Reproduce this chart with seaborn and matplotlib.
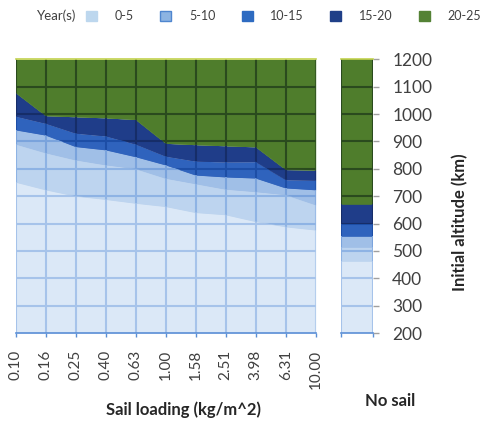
import numpy as np
import matplotlib
matplotlib.use("Agg")
import matplotlib.pyplot as plt
import seaborn as sns
import pandas as pd
from matplotlib.patches import Patch

# ---------------- data ----------------
loading_labels = ["0.10", "0.16", "0.25", "0.40", "0.63", "1.00",
                  "1.58", "2.51", "3.98", "6.31", "10.00"]
# altitude (km) of the contour boundaries, bottom to top
level1 = [751, 723, 700, 688, 674, 662, 640, 632, 607, 588, 576]
level2 = [890, 858, 832, 814, 800, 765, 745, 725, 716, 705, 668]
level3 = [942, 923, 881, 869, 844, 814, 777, 770, 766, 730, 723]
level4 = [992, 966, 930, 920, 890, 846, 828, 825, 826, 760, 758]
level5 = [1078, 994, 990, 986, 980, 893, 888, 884, 880, 797, 795]
nosail_levels = [462, 515, 553, 600, 672]
alt_ticks = [200, 300, 400, 500, 600, 700, 800, 900, 1000, 1100, 1200]
legend_labels = ["0-5", "5-10", "10-15", "15-20", "20-25"]

band_colors = ["#dbe8f7", "#bdd4ef", "#a0bfe7", "#2f63bd", "#1f3d89", "#4f7d2c"]
grid_colors = ["#a6c3ea", "#8eb3e4", "#7aa3dc", "#1d4ea6", "#162d68", "#2a4a1e"]
legend_colors = ["#bdd7ee", "#8db4e2", "#2e6bc1", "#1f3f88", "#548235"]
legend_edges = ["#bdd7ee", "#4f86cf", "#2e6bc1", "#1f3f88", "#548235"]

sns.set_theme(style="white")
plt.rcParams["font.family"] = ["Lato", "DejaVu Sans"]

W, H = 487, 422
fig = plt.figure(figsize=(W / 100, H / 100), dpi=100)

y_top, y_bot = 59.3, 333.0
ax = fig.add_axes([15.7 / W, 1 - y_bot / H, 300.0 / W, (y_bot - y_top) / H])
ax2 = fig.add_axes([340.7 / W, 1 - y_bot / H, 32.0 / W, (y_bot - y_top) / H])

def draw_panel(a, x, levels, vlines):
    n = len(x)
    bounds = [np.full(n, alt_ticks[0], dtype=float)] + \
             [np.asarray(l, dtype=float) for l in levels] + \
             [np.full(n, alt_ticks[-1], dtype=float)]
    polys = []
    for i in range(6):
        p = a.fill_between(x, bounds[i], bounds[i + 1], color=band_colors[i],
                           lw=0, zorder=1)
        polys.append(p)
    for i in range(1, 6):
        df = pd.DataFrame({"x": x, "alt": bounds[i]})
        sns.lineplot(data=df, x="x", y="alt", ax=a, color=band_colors[i],
                     lw=0.6, estimator=None, zorder=1.5)
    for i, p in enumerate(polys):
        clip = (p.get_paths()[0], p.get_transform())
        for xv in vlines:
            ln = a.axvline(xv, color=grid_colors[i], lw=1.5, zorder=2)
            ln.set_clip_path(*clip)
        for yv in alt_ticks[1:-1]:
            ln = a.axhline(yv, color=grid_colors[i], lw=1.5, zorder=2)
            ln.set_clip_path(*clip)
    a.set_ylim(alt_ticks[0], alt_ticks[-1])
    a.set_xlim(x[0], x[-1])
    for s in ["left", "right"]:
        a.spines[s].set_visible(False)
    a.spines["top"].set_color("#c2d24e")
    a.spines["top"].set_linewidth(1.2)
    a.spines["bottom"].set_color("#5b8fd6")
    a.spines["bottom"].set_linewidth(1.2)
    a.set_xlabel("")
    a.set_ylabel("")

x_main = np.arange(len(loading_labels))
draw_panel(ax, x_main, [level1, level2, level3, level4, level5], x_main)
x_ns = np.array([0.0, 1.0])
draw_panel(ax2, x_ns, [[v, v] for v in nosail_levels], x_ns)

tick_col = "#404040"
ax.set_xticks(x_main)
ax.set_xticklabels(loading_labels, rotation=90, fontsize=11, color=tick_col)
ax.tick_params(axis="x", direction="out", length=3, width=1, color="#5b8fd6",
               pad=9, bottom=True)
ax.set_yticks([])

ax2.set_xticks(x_ns)
ax2.set_xticklabels([])
ax2.tick_params(axis="x", direction="out", length=3, width=1, color="#5b8fd6",
                bottom=True)
ax2.set_yticks(alt_ticks)
ax2.yaxis.tick_right()
ax2.set_yticklabels([str(v) for v in alt_ticks], fontsize=12.5, color=tick_col)
ax2.tick_params(axis="y", direction="out", length=4, width=1, color="#a0a0a0",
                pad=10, right=True, left=False)

fig.text(184 / W, 1 - 410 / H, "Sail loading (kg/m^2)", ha="center", va="center",
         fontsize=12, fontweight="bold", color="#262626")
fig.text(390 / W, 1 - 401 / H, "No sail", ha="center", va="center",
         fontsize=12, fontweight="bold", color="#262626")
fig.text(460 / W, 1 - 222 / H, "Initial altitude (km)", ha="center", va="center",
         rotation=90, fontsize=12, fontweight="bold", color="#262626")

fig.text(37 / W, 1 - 16 / H, "Year(s)", ha="left", va="center",
         fontsize=9.5, color=tick_col)
handles = [Patch(facecolor=c, edgecolor=e, lw=1.0) for c, e in zip(legend_colors, legend_edges)]
fig.legend(handles, legend_labels, loc="center left",
           bbox_to_anchor=(86 / W, 1 - 16 / H), ncol=5, frameon=False,
           fontsize=9, handlelength=0.9, handleheight=0.9, handletextpad=1.4,
           columnspacing=2.1, labelcolor=tick_col, borderaxespad=0, borderpad=0)

fig.savefig("out.png", dpi=100)
